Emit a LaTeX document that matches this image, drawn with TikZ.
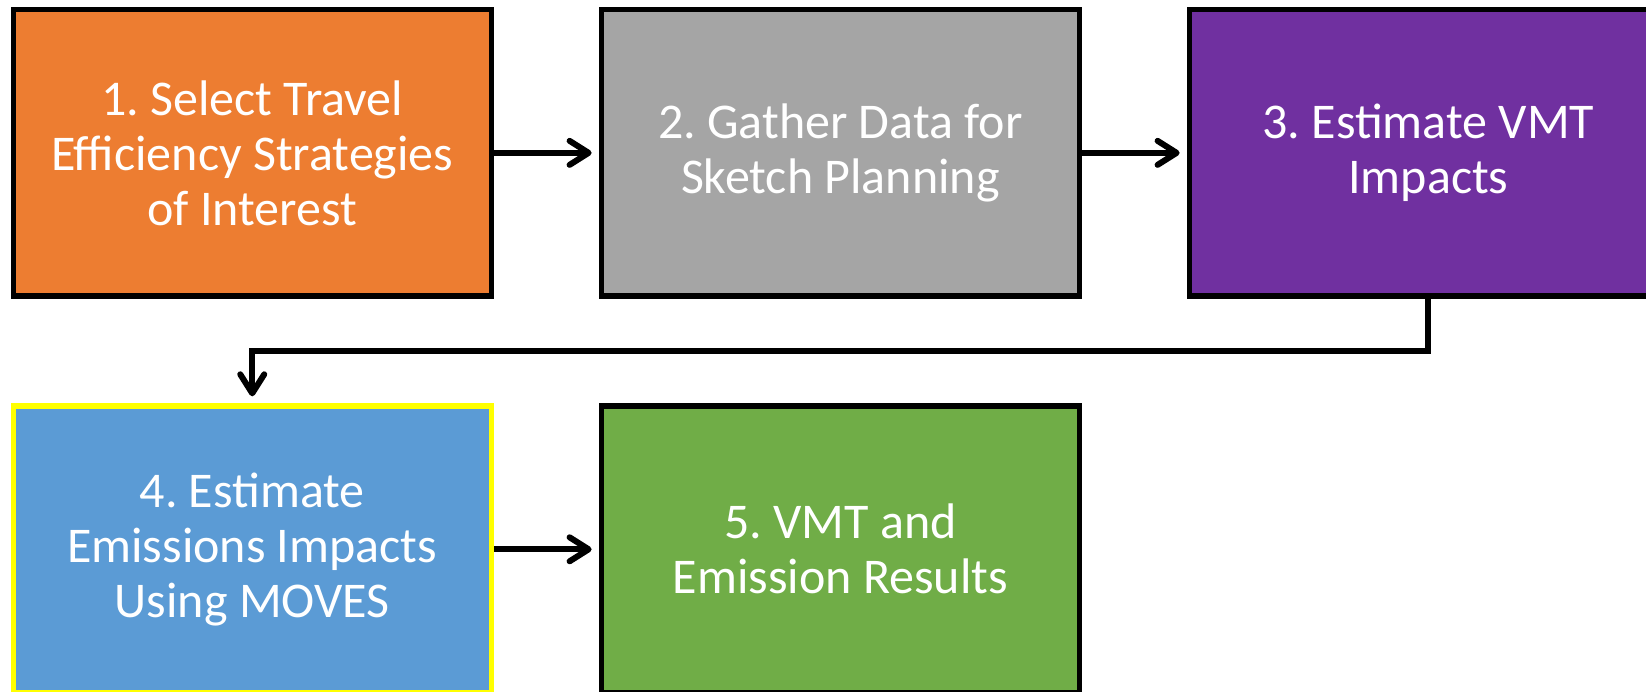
\documentclass[tikz,border=0pt]{standalone}
\usepackage{fontspec}
\setmainfont{Carlito}
\usetikzlibrary{arrows.meta}
\definecolor{corange}{HTML}{ED7D31}
\definecolor{cgrey}{HTML}{A5A5A5}
\definecolor{cpurple}{HTML}{7030A0}
\definecolor{cblue}{HTML}{5B9BD5}
\definecolor{cgreen}{HTML}{70AD47}
\definecolor{cyellow}{HTML}{FFFF00}
\frenchspacing
\begin{document}
\begin{tikzpicture}[x=1pt,y=-1pt,
  stepbox/.style={draw=black, line width=5.5pt, minimum width=478pt, minimum height=286.5pt,
    text=white, align=center, inner sep=0pt, font=\fontsize{50}{55}\selectfont},
  arr/.style={line width=6pt, -{Straight Barb[length=19pt,width=24pt,round]}, shorten >=7pt}]
\fill[white] (0,0) rectangle (1646,691);
\useasboundingbox (0,0) rectangle (1646,691);
\node[stepbox, fill=corange] (b1) at (252.25,152.85) {1. Select Travel\\Efficiency Strategies\\of Interest};
\node[stepbox, fill=cgrey] (b2) at (840.35,152.85) {2. Gather Data for\\Sketch Planning};
\node[stepbox, fill=cpurple] (b3) at (1428.35,152.85) {3. Estimate VMT\\Impacts};
\node[stepbox, fill=cblue, draw=cyellow] (b4) at (252.25,549.3) {4. Estimate\\Emissions Impacts\\Using MOVES};
\node[stepbox, fill=cgreen] (b5) at (840.35,549.3) {5. VMT and\\Emission Results};
\coordinate (bend) at (0,351);
\draw[arr] (b1.east) -- (b2.west);
\draw[arr] (b2.east) -- (b3.west);
\draw[arr] (b3.south) -- (b3.south |- bend) -| (b4.north);
\draw[arr] (b4.east) -- (b5.west);
\end{tikzpicture}
\end{document}
